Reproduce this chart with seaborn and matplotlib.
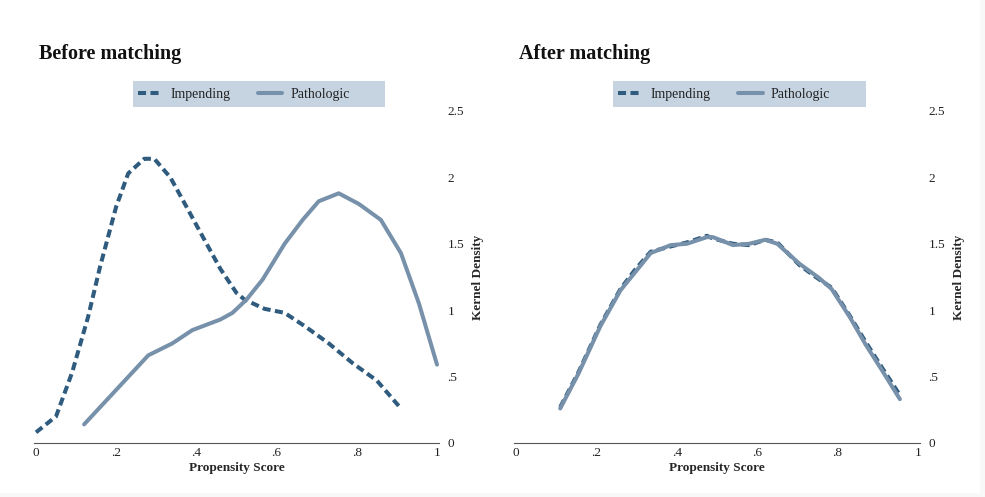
import numpy as np
import pandas as pd
import matplotlib
matplotlib.use("Agg")
import matplotlib.pyplot as plt
from matplotlib.patches import Rectangle
import seaborn as sns

# ---- data ----
before_imp_x = [0.0, 0.05, 0.09, 0.13, 0.16, 0.20, 0.23, 0.27, 0.295, 0.335, 0.375, 0.42, 0.46, 0.50, 0.52, 0.57, 0.62, 0.67, 0.73, 0.79, 0.85, 0.91]
before_imp_y = [0.08, 0.20, 0.53, 0.95, 1.33, 1.78, 2.03, 2.14, 2.14, 2.00, 1.78, 1.53, 1.31, 1.13, 1.08, 1.01, 0.98, 0.88, 0.75, 0.60, 0.47, 0.26]
before_path_x = [0.12, 0.20, 0.28, 0.34, 0.39, 0.46, 0.49, 0.525, 0.565, 0.62, 0.665, 0.705, 0.755, 0.805, 0.86, 0.91, 0.955, 1.0]
before_path_y = [0.14, 0.40, 0.66, 0.75, 0.85, 0.93, 0.98, 1.08, 1.23, 1.50, 1.68, 1.82, 1.88, 1.80, 1.68, 1.43, 1.05, 0.59]

after_imp_x = [0.11, 0.155, 0.21, 0.26, 0.295, 0.335, 0.385, 0.425, 0.475, 0.49, 0.54, 0.58, 0.62, 0.65, 0.705, 0.755, 0.785, 0.83, 0.87, 0.91, 0.955]
after_imp_y = [0.27, 0.53, 0.89, 1.16, 1.30, 1.44, 1.48, 1.51, 1.56, 1.54, 1.50, 1.49, 1.53, 1.51, 1.34, 1.23, 1.17, 0.96, 0.76, 0.57, 0.36]
after_path_x = [0.11, 0.155, 0.21, 0.26, 0.295, 0.335, 0.385, 0.425, 0.475, 0.49, 0.54, 0.58, 0.62, 0.65, 0.705, 0.755, 0.785, 0.83, 0.87, 0.91, 0.955]
after_path_y = [0.26, 0.52, 0.88, 1.15, 1.28, 1.43, 1.49, 1.50, 1.55, 1.55, 1.49, 1.50, 1.53, 1.50, 1.35, 1.24, 1.16, 0.95, 0.74, 0.55, 0.33]

groups = ["Impending", "Pathologic"]
panel_titles = ["Before matching", "After matching"]
x_ticks = [0, 0.2, 0.4, 0.6, 0.8, 1.0]
x_ticklabels = ["0", ".2", ".4", ".6", ".8", "1"]
y_ticks = [0, 0.5, 1.0, 1.5, 2.0, 2.5]
y_ticklabels = ["0", ".5", "1", "1.5", "2", "2.5"]

sns.set_style("white")
plt.rcParams["font.family"] = ["Liberation Serif", "DejaVu Serif"]

def make_df(ix, iy, px, py):
    return pd.concat([
        pd.DataFrame({"x": ix, "y": iy, "group": groups[0]}),
        pd.DataFrame({"x": px, "y": py, "group": groups[1]}),
    ], ignore_index=True)

dfs = [make_df(before_imp_x, before_imp_y, before_path_x, before_path_y),
       make_df(after_imp_x, after_imp_y, after_path_x, after_path_y)]

palette = {"Impending": "#2F5B7E", "Pathologic": "#7791AA"}
dashes = {"Impending": (2.0, 1.1), "Pathologic": ""}

fig = plt.figure(figsize=(9.85, 4.97), dpi=100)
# faint grey strip at bottom and right edge, as in the reference
fig.patches.append(Rectangle((0, 0), 1, 4 / 497, transform=fig.transFigure,
                             facecolor="#F8F8F8", edgecolor="none", zorder=0))
fig.patches.append(Rectangle((980 / 985, 0), 5 / 985, 1, transform=fig.transFigure,
                             facecolor="#F8F8F8", edgecolor="none", zorder=0))

positions = [[0.0345, 0.1087, 0.4112, 0.668], [0.5218, 0.1087, 0.4122, 0.668]]

for i, (df, pos) in enumerate(zip(dfs, positions)):
    ax = fig.add_axes(pos)
    ax.patch.set_alpha(0)
    sns.lineplot(data=df, x="x", y="y", hue="group", style="group",
                 palette=palette, dashes=dashes, linewidth=2.9,
                 sort=False, estimator=None, ax=ax, legend=True)
    for ln in ax.get_lines():
        ln.set_solid_capstyle("round")
        ln.set_dash_capstyle("butt")
    ax.set_xlim(-0.005, 1.005)
    ax.set_ylim(0, 2.5)
    for s in ["top", "left", "right"]:
        ax.spines[s].set_visible(False)
    ax.spines["bottom"].set_color("#555555")
    ax.spines["bottom"].set_linewidth(0.8)
    ax.set_xticks(x_ticks)
    ax.set_xticklabels(x_ticklabels)
    ax.set_yticks(y_ticks)
    ax.set_yticklabels(y_ticklabels)
    ax.yaxis.tick_right()
    ax.yaxis.set_label_position("right")
    ax.tick_params(axis="y", length=0, pad=6, labelsize=9.5, colors="#222222")
    ax.tick_params(axis="x", direction="inout", length=6, width=0.8,
                   color="#555555", labelsize=9.5, pad=0, colors="#222222")
    ax.set_xlabel("Propensity Score", fontsize=9.5, fontweight="bold", labelpad=2)
    ax.set_ylabel("Kernel Density", fontsize=9.5, fontweight="bold", labelpad=6)
    ax.grid(False)

    # legend background box
    ax.add_patch(Rectangle((0.244, 1.012), 0.623, 0.078, transform=ax.transAxes,
                           facecolor="#C6D4E1", edgecolor="none", clip_on=False, zorder=1))
    handles, labels = ax.get_legend_handles_labels()
    leg = ax.legend(handles, labels, ncol=2, loc="center left",
                    bbox_to_anchor=(0.244, 1.012 + 0.039),
                    frameon=False, fontsize=10,
                    handlelength=1.75, handletextpad=0.6, columnspacing=2.0,
                    borderpad=0.0, borderaxespad=0.35)
    for t in leg.get_texts():
        t.set_color("#222222")

    fig.text(pos[0] + 0.0055, 1 - 54 / 497, panel_titles[i], fontsize=14.5,
             fontweight="bold", ha="left", va="center", color="#111111")

fig.savefig("out.png", dpi=100)
